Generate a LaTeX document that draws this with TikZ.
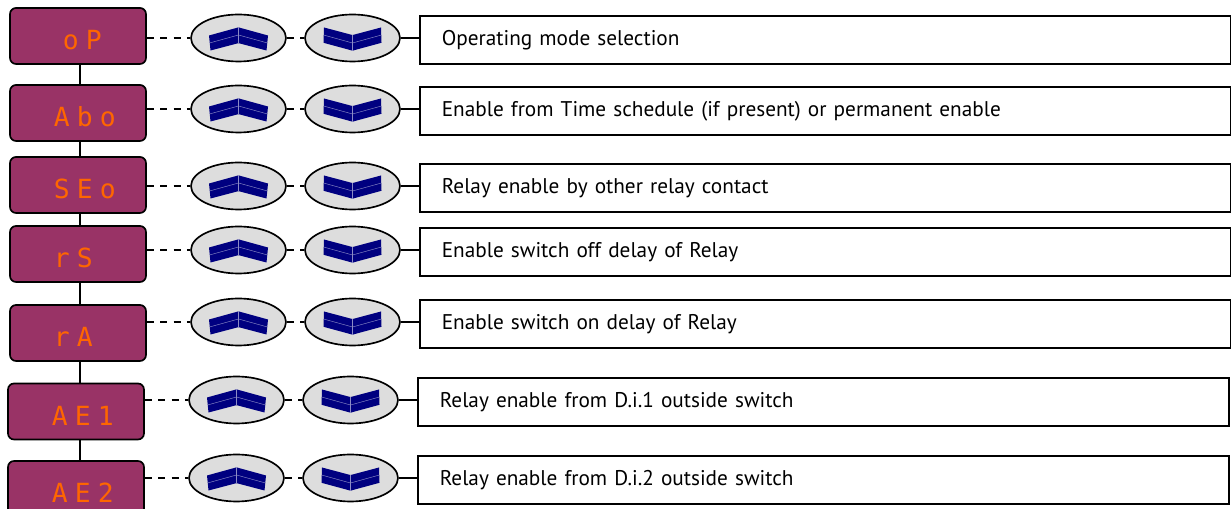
\documentclass[tikz,border=0pt]{standalone}
\usepackage{fontspec}
\setmainfont{PT Sans}
\newfontfamily\segfont{DejaVu Sans Mono}
\usetikzlibrary{shapes.geometric}
\definecolor{dispbg}{RGB}{153,51,102}
\definecolor{segorange}{RGB}{255,102,0}
\definecolor{keygray}{RGB}{221,221,221}
\definecolor{keyblue}{RGB}{0,0,128}
% one digit position of the display
\newcommand{\seg}[1]{\makebox[0.46cm]{#1}}

\begin{document}
\begin{tikzpicture}[x=0.02cm,y=-0.02cm,line width=0.95pt,
    display/.style={draw,fill=dispbg,rounded corners=3.4pt,minimum width=2.72cm,
      minimum height=1.12cm,inner sep=0pt},
    digits/.style={anchor=base west,inner sep=0pt,text=segorange,
      font=\segfont\fontsize{15}{17}\selectfont},
    key/.style={draw,fill=keygray,ellipse,minimum width=1.9cm,minimum height=0.94cm,
      inner sep=0pt},
    descr/.style={draw,anchor=west,minimum height=0.96cm,text width=15.34cm,
      inner xsep=0.44cm,align=left,font=\fontsize{12.1}{15}\selectfont},
    link/.style={dash pattern=on 4pt off 3.6pt},
    seam/.style={keyblue!45!white,line width=0.25pt},
    chevup/.pic={
      \fill[keyblue] (-29.5,-2.5) -- (-0.5,-10.5) -- (0.5,5) -- (-28,12.5) -- cycle;
      \fill[keyblue] (29.5,-2.5) -- (0.5,-10.5) -- (-0.5,5) -- (28,12.5) -- cycle;
      \draw[seam] (-29,5) -- (0,-3) -- (29,5);
      \draw[seam] (0,-10.5) -- (0,5);
    },
    chevdown/.pic={
      \fill[keyblue] (-28.5,-10.5) -- (0.5,-2.8) -- (0.5,12.8) -- (-29,4.8) -- cycle;
      \fill[keyblue] (28.5,-10.5) -- (-0.5,-2.8) -- (-0.5,12.8) -- (29,4.8) -- cycle;
      \draw[seam] (-29,-3) -- (0,5) -- (29,-3);
      \draw[seam] (0,-2.8) -- (0,12.8);
    }]
  \useasboundingbox (0,0) rectangle (1231,509);
  \coordinate (spine) at (80,0);
  % one row per parameter: display, up key, down key, description
  \foreach \i/\ly/\by/\dx/\sx/\dig/\txt in {
      1/36/36/0/58.5/{\seg{o}\seg{P}}/{Operating mode selection},
      2/107/113/0/49.5/{\seg{A}\seg{b}\seg{o}}/{Enable from Time schedule (if present) or permanent enable},
      3/184/185/0/49.5/{\seg{S}\seg{E}\seg{o}}/{Relay enable by other relay contact},
      4/248/254/0/49.5/{\seg{r}\seg{S}}/{Enable switch off delay of Relay},
      5/320/333/0/49.5/{\seg{r}\seg{A}}/{Enable switch on delay of Relay},
      6/398/411.5/-2/47.5/{\seg{A}\seg{E}\seg{1}}/{Relay enable from D.i.1 outside switch},
      7/476/489/-2/47.5/{\seg{A}\seg{E}\seg{2}}/{Relay enable from D.i.2 outside switch}} {
    \node[display] (disp\i) at (78+\dx,\by) {};
    \node[digits] (dig\i) at (\sx,\by+14) {\dig};
    \node[key] (up\i) at (238.5+\dx,\ly+2) {};
    \pic at (up\i.center) {chevup};
    \node[key] (down\i) at (352.5+\dx,\ly+2) {};
    \pic at (down\i.center) {chevdown};
    \node[descr] (txt\i) at (419+\dx,\ly+4) {\txt};
    \draw[link] (disp\i.east |- up\i.west) -- (up\i.west);
    \draw[link] (up\i.east) -- (down\i.west);
    \draw (down\i.east) -- (down\i.east -| txt\i.west);
  }
  % spine joining the displays
  \foreach \i [count=\j from 2] in {1,...,6}
    \draw (spine |- disp\i.south) -- (spine |- disp\j.north);
\end{tikzpicture}
\end{document}
